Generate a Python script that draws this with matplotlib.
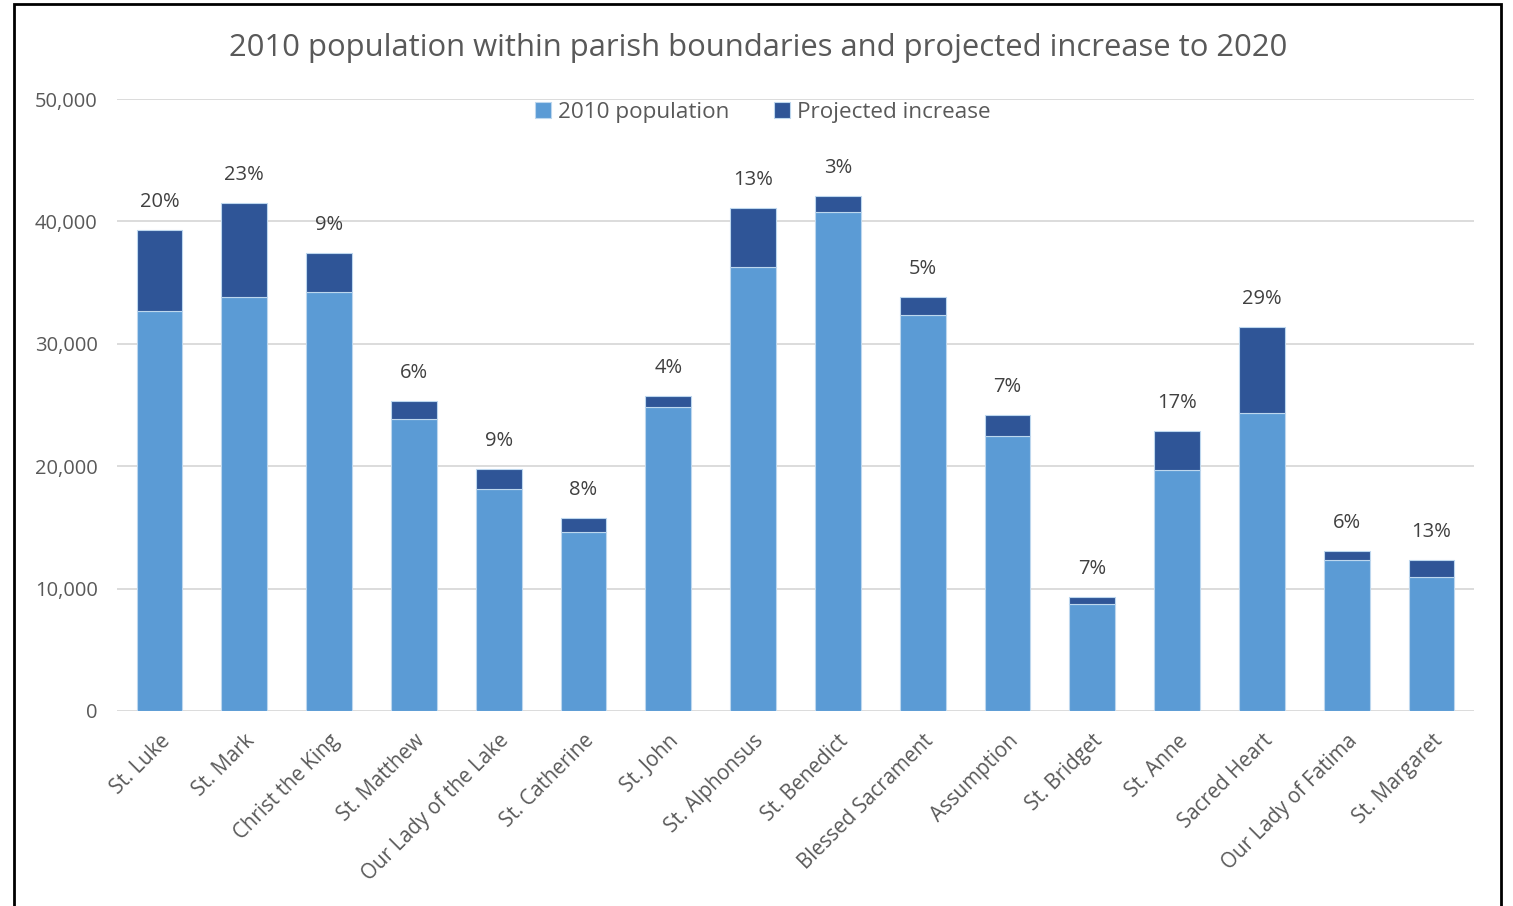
import numpy as np
import matplotlib.pyplot as plt
from matplotlib.patches import Rectangle

plt.rcParams['font.family'] = ['Open Sans', 'DejaVu Sans']

# Parish data
parishes = ["St. Luke", "St. Mark", "Christ the King", "St. Matthew",
            "Our Lady of the Lake", "St. Catherine", "St. John", "St. Alphonsus",
            "St. Benedict", "Blessed Sacrament", "Assumption", "St. Bridget",
            "St. Anne", "Sacred Heart", "Our Lady of Fatima", "St. Margaret"]
pop_2010 = [32700, 33800, 34250, 23850, 18100, 14600, 24850, 36300,
            40800, 32350, 22500, 8750, 19650, 24350, 12350, 10950]
increase = [6600, 7700, 3200, 1500, 1650, 1150, 900, 4800,
            1300, 1500, 1650, 550, 3250, 7050, 750, 1400]
pct_labels = ["20%", "23%", "9%", "6%", "9%", "8%", "4%", "13%",
              "3%", "5%", "7%", "7%", "17%", "29%", "6%", "13%"]

light = "#5b9bd5"
dark = "#2f5597"
text_c = "#595959"

fig = plt.figure(figsize=(15.13, 9.06), dpi=100)
ax = fig.add_axes([117/1513, 1 - 711/906, (1474-117)/1513, (711-99)/906])

x = np.arange(len(parishes))
ax.bar(x, pop_2010, width=0.54, color=light, edgecolor="#bdd7ee", linewidth=0.8,
       label="2010 population", zorder=3)
tot = np.array(pop_2010) + np.array(increase)
ax.bar(x, increase, bottom=pop_2010, width=0.54, color=dark, edgecolor="#bdd7ee",
       linewidth=0.8, label="Projected increase", zorder=3)

for i in range(len(parishes)):
    ax.annotate(pct_labels[i], (x[i], tot[i]), xytext=(0, 28), textcoords="offset pixels",
                ha="center", va="center", fontsize=14.5, color="#404040")

ax.set_xlim(-0.5, len(parishes) - 0.5)
ax.set_ylim(0, 50000)
ax.set_yticks(range(0, 50001, 10000))
ax.set_yticklabels(["{:,}".format(v) for v in range(0, 50001, 10000)],
                   fontsize=14.5, color=text_c)
ax.set_xticks(x)
ax.set_xticklabels(parishes, rotation=45, ha="right", rotation_mode="anchor",
                   fontsize=14.8, color=text_c)
ax.tick_params(axis="y", length=0, pad=14)
ax.tick_params(axis="x", length=0, pad=14)
ax.grid(axis="y", color="#d9d9d9", linewidth=1.3, zorder=0)
for s in ax.spines.values():
    s.set_visible(False)

fig.text(758/1513, 1 - 48/906, "2010 population within parish boundaries and projected increase to 2020",
         ha="center", va="center", fontsize=22.3, color=text_c)

leg = ax.legend(loc="upper center", bbox_to_anchor=(0.476, 1.01), ncol=2, frameon=False,
                fontsize=16.2, handlelength=0.7, handleheight=0.7, handletextpad=0.3,
                columnspacing=2.0, labelcolor=text_c, borderaxespad=0.0)

# outer chart border
fig.patches.append(Rectangle((14/1513, -0.01), (1501-14)/1513, 1 - 4/906 + 0.01,
                             transform=fig.transFigure, fill=False,
                             edgecolor="black", linewidth=2))

fig.savefig("out.png", dpi=100)
